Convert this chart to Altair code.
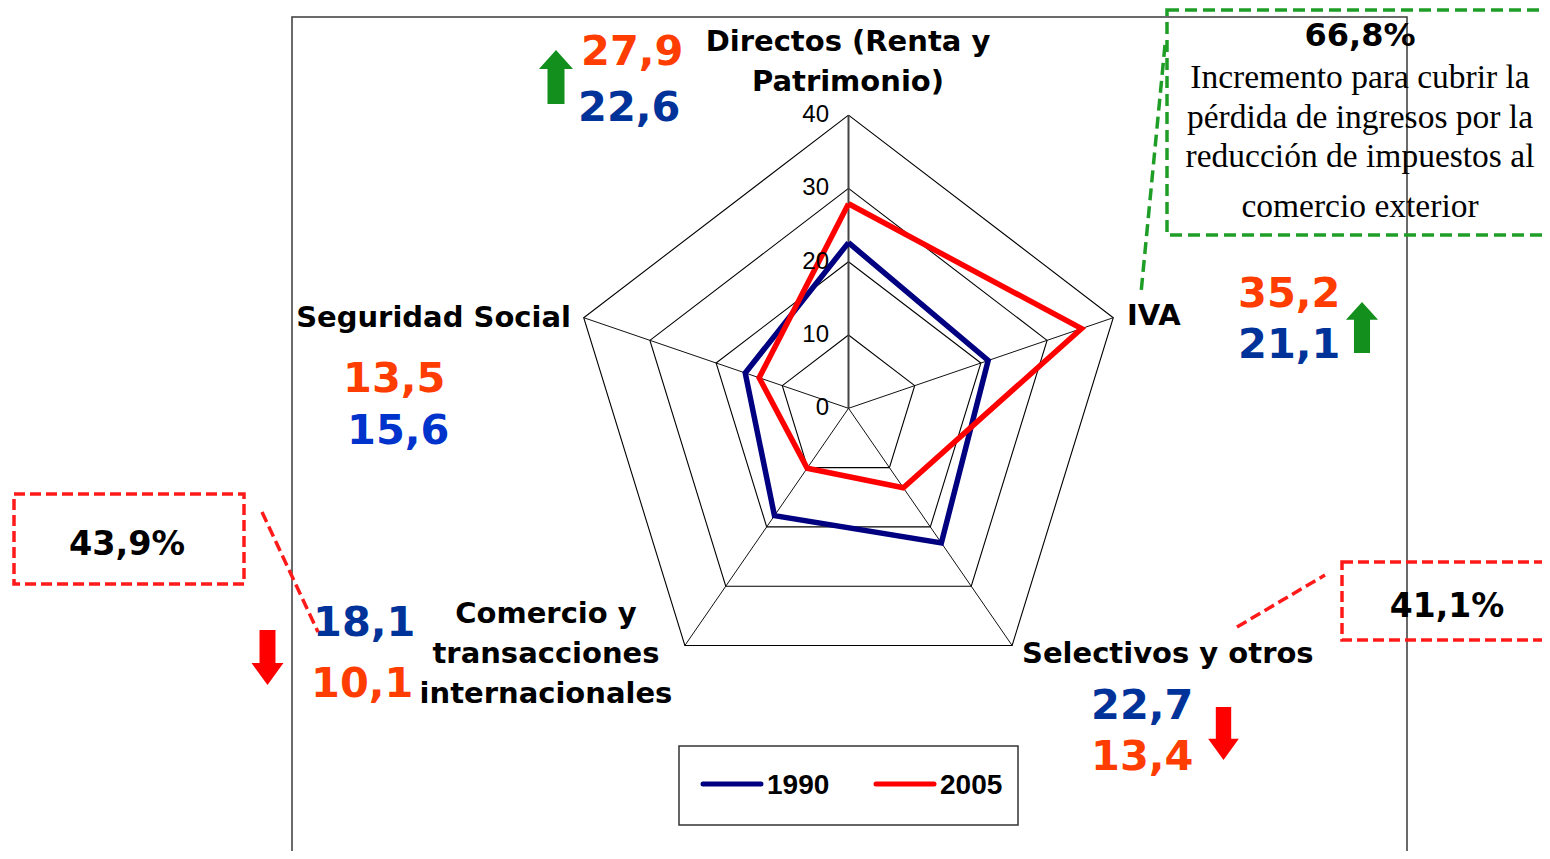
import math
import altair as alt
import pandas as pd

# ---------------- data ----------------
categories = ["Directos (Renta y\nPatrimonio)", "IVA", "Selectivos y otros",
              "Comercio y\ntransacciones\ninternacionales", "Seguridad Social"]
years = ["1990", "2005"]
values_1990 = [22.6, 21.1, 22.7, 18.1, 15.6]
values_2005 = [27.9, 35.2, 13.4, 10.1, 13.5]
ring_values = [10, 20, 30, 40]
axis_ticks = [0, 10, 20, 30, 40]
change_labels = ["66,8%", "41,1%", "43,9%"]
note_lines = ["Incremento para cubrir la", "pérdida de ingresos por la",
              "reducción de impuestos al", "comercio exterior"]

# ---------------- layout ----------------
W, H = 1534, 843
CX, CY = 848.5, 408.3      # page px of radar centre
KX, KY = 6.96, 7.33        # px per unit
xmin = -(CX - 8) / KX
xmax = xmin + W / KX
ymax = (CY - 8) / KY
ymin = ymax - H / KY
XS = alt.Scale(domain=[xmin, xmax], nice=False, zero=False)
YS = alt.Scale(domain=[ymin, ymax], nice=False, zero=False)


def P(v):
    return v - 8


def fmt(v):
    return f"{v:.1f}".replace(".", ",")


def text(s, x, y, size, color="black", font="DejaVu Sans", weight="bold",
         align="left", lh=None):
    layers = []
    for i, line in enumerate(s.split("\n")):
        layers.append(
            alt.Chart(pd.DataFrame({"t": [line]})).mark_text(
                align=align, baseline="alphabetic", font=font, fontSize=size,
                fontWeight=weight, color=color
            ).encode(x=alt.value(P(x)), y=alt.value(P(y + i * (lh or 0))), text="t:N")
        )
    return layers


def rect(x1, y1, x2, y2, stroke, sw, dash=None, fill="white", fo=0):
    kw = dict(stroke=stroke, strokeWidth=sw, fill=fill, fillOpacity=fo)
    if dash:
        kw["strokeDash"] = dash
    return alt.Chart(pd.DataFrame({"a": [0]})).mark_rect(**kw).encode(
        x=alt.value(P(x1)), x2=alt.value(P(x2)), y=alt.value(P(y1)), y2=alt.value(P(y2)))


def seg(x1, y1, x2, y2, color, sw, dash=None, cap="butt"):
    kw = dict(color=color, strokeWidth=sw, strokeCap=cap)
    if dash:
        kw["strokeDash"] = dash
    return alt.Chart(pd.DataFrame({"a": [0]})).mark_rule(**kw).encode(
        x=alt.value(P(x1)), x2=alt.value(P(x2)), y=alt.value(P(y1)), y2=alt.value(P(y2)))


UP = "M0,-1 L0.63,-0.3 L0.315,-0.3 L0.315,1 L-0.315,1 L-0.315,-0.3 L-0.63,-0.3 Z"
DOWN = "M-0.29,-1 L0.29,-1 L0.29,0.2 L0.58,0.2 L0,1 L-0.58,0.2 L-0.29,0.2 Z"


def arrow(cx, cy, h, path, color):
    return alt.Chart(pd.DataFrame({"a": [0]})).mark_point(
        shape=path, filled=True, size=h * h, color=color, opacity=1, strokeWidth=0
    ).encode(x=alt.value(P(cx)), y=alt.value(P(cy)))


# ---------------- radar ----------------
calc = dict(
    x="datum.v * sin(2 * PI * datum.k / 5)",
    y="datum.v * cos(2 * PI * datum.k / 5)",
)

ring_df = pd.DataFrame([{"r": r, "k": k, "v": r} for r in ring_values for k in range(6)])
rings = alt.Chart(ring_df).transform_calculate(**calc).mark_line(
    color="black", strokeWidth=1.1
).encode(
    x=alt.X("x:Q", scale=XS, axis=None), y=alt.Y("y:Q", scale=YS, axis=None),
    detail="r:N", order="k:Q")

spoke_df = pd.DataFrame([{"k": k, "v": ring_values[-1], "x0": 0.0, "y0": 0.0} for k in range(5)])
spokes = alt.Chart(spoke_df).transform_calculate(**calc).mark_rule().encode(
    x=alt.X("x0:Q", scale=XS, axis=None), y=alt.Y("y0:Q", scale=YS, axis=None),
    x2="x:Q", y2="y:Q",
    color=alt.condition("datum.k == 0", alt.value("#444444"), alt.value("#111111")),
    strokeWidth=alt.condition("datum.k == 0", alt.value(2), alt.value(1)))

tick_df = pd.DataFrame({"r": axis_ticks, "lab": [str(t) for t in axis_ticks]})
ticks = alt.Chart(tick_df).mark_text(
    align="right", baseline="middle", font="Liberation Sans", fontSize=24, color="black"
).encode(x=alt.value(P(829)), y=alt.Y("r:Q", scale=YS, axis=None), text="lab:N")

series_rows = []
for yr, vals in zip(years, [values_1990, values_2005]):
    for k in range(6):
        series_rows.append({"year": yr, "k": k, "v": vals[k % 5]})
series_df = pd.DataFrame(series_rows)
series = alt.Chart(series_df).transform_calculate(**calc).mark_line(
    strokeWidth=5.5, strokeJoin="miter"
).encode(
    x=alt.X("x:Q", scale=XS, axis=None), y=alt.Y("y:Q", scale=YS, axis=None),
    color=alt.Color("year:N", scale=alt.Scale(domain=years, range=["#000080", "#FF0000"]), legend=None),
    detail="year:N", order="k:Q")

layers = []
# frame
layers.append(rect(292, 17, 1407, 900, "#3a3a3a", 1.5))
layers += [rings, spokes, series, ticks]

# category labels
cat_pos = [(848, 51, "center"), (1127, 325, "left"), (1022, 663, "left"),
           (546, 623, "center"), (571, 327, "right")]
for c, (x, y, a) in zip(categories, cat_pos):
    layers += text(c, x, y, 29, align=a, lh=40)

# value labels
ORANGE = "#FF3D00"
pos_2005 = [(581, 65), (1238, 307), (1091, 770), (311, 697), (343, 392)]
pos_1990 = [(578, 121), (1238, 358), (1091, 719), (313, 636), (347, 444)]
col_1990 = ["#003399", "#003399", "#003399", "#003399", "#0033CC"]
for v, (x, y) in zip(values_2005, pos_2005):
    layers += text(fmt(v), x, y, 41.5, color=ORANGE)
for v, (x, y), c in zip(values_1990, pos_1990, col_1990):
    layers += text(fmt(v), x, y, 41.5, color=c)

# arrows
GREEN = "#138F1E"
layers.append(arrow(556, 77, 54, UP, GREEN))
layers.append(arrow(1362, 327.5, 51, UP, GREEN))
layers.append(arrow(267.5, 657.5, 55, DOWN, "#FF0000"))
layers.append(arrow(1223.5, 733.5, 53, DOWN, "#FF0000"))

# green note box
DG = "#1E9E26"
layers.append(rect(1167, 10, 1620, 235, DG, 3.5, dash=[12, 6]))
layers.append(seg(1165, 45, 1141, 293, DG, 3.5, dash=[12, 6]))
layers += text(change_labels[0], 1360, 46, 32, align="center")
for i, line in enumerate(note_lines):
    yb = [88, 128, 167, 217][i]
    layers += text(line, 1360, yb, 33.5, font="Liberation Serif", weight="normal", align="center")

# red boxes
RD = "#FF1A1A"
layers.append(rect(14, 494, 244, 584, RD, 3.5, dash=[11, 5]))
layers.append(seg(262, 512, 318, 632, RD, 3.5, dash=[11, 5]))
layers += text(change_labels[2], 127, 555, 33.5, align="center")
layers.append(rect(1342, 562, 1620, 640, RD, 3.5, dash=[11, 5]))
layers.append(seg(1237, 627, 1325, 575, RD, 3.5, dash=[11, 5]))
layers += text(change_labels[1], 1447, 617, 33, align="center")

# legend
layers.append(rect(679, 746, 1018, 825, "#333333", 1.5, fill="white", fo=1))
layers.append(seg(703, 784, 761, 784, "#000080", 5, cap="round"))
layers.append(seg(876, 784, 934, 784, "#FF0000", 5, cap="round"))
layers += text(years[0], 767, 794, 28, font="Liberation Sans", align="left")
layers += text(years[1], 940, 794, 28, font="Liberation Sans", align="left")

chart = alt.layer(*layers).properties(
    width=W, height=H, autosize=alt.AutoSizeParams(type="none"), padding=0,
    background="white"
).configure_view(stroke=None)

chart.save("out.html", embed_options={"renderer": "svg", "actions": False})
